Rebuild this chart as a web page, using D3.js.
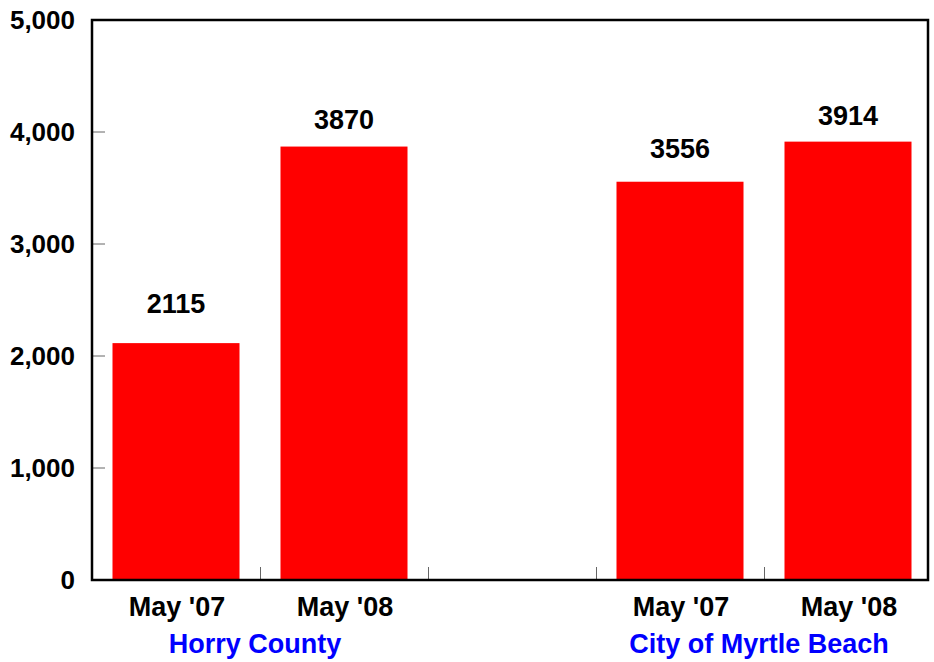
<!DOCTYPE html>
<html>
<head>
<meta charset="utf-8">
<script src="https://cdn.jsdelivr.net/npm/d3@7"></script>
<style>
  body { margin: 0; background: #fff; }
  text { font-family: "Liberation Sans", Arial, sans-serif; font-weight: bold; }
</style>
</head>
<body>
<div id="chart"></div>
<script>
const groups = ["Horry County", "City of Myrtle Beach"];
const periods = ["May '07", "May '08"];
const horry = [2115, 3870];
const myrtle = [3556, 3914];
const yTicks = [0, 1000, 2000, 3000, 4000, 5000];

// slots: 2 bars, empty gap, 2 bars
const slots = ["h0", "h1", "gap", "m0", "m1"];
const bars = [
  { slot: "h0", label: periods[0], value: horry[0] },
  { slot: "h1", label: periods[1], value: horry[1] },
  { slot: "m0", label: periods[0], value: myrtle[0] },
  { slot: "m1", label: periods[1], value: myrtle[1] }
];
// the original places the value labels at uneven gaps above the bars
const labelGap = [30, 18, 24, 17];

const W = 934, H = 662;
const mLeft = 92, mTop = 20, mRight = 928, mBottom = 580;

const svg = d3.select("#chart").append("svg")
    .attr("width", W)
    .attr("height", H);

const x = d3.scaleBand()
    .domain(slots)
    .range([mLeft, 932])
    .paddingInner(0)
    .paddingOuter(0);

const y = d3.scaleLinear()
    .domain([0, 5000])
    .range([mBottom, mTop]);

const bw = x.bandwidth() * 0.756;

// bars
svg.selectAll("rect.bar")
    .data(bars)
  .enter().append("rect")
    .attr("class", "bar")
    .attr("x", d => x(d.slot) + x.bandwidth() / 2 - bw / 2)
    .attr("y", d => y(d.value))
    .attr("width", bw)
    .attr("height", d => y(0) - y(d.value))
    .attr("fill", "#ff0000");

// value labels
svg.selectAll("text.val")
    .data(bars)
  .enter().append("text")
    .attr("class", "val")
    .attr("x", d => x(d.slot) + x.bandwidth() / 2)
    .attr("y", (d, i) => y(d.value) - labelGap[i])
    .attr("text-anchor", "middle")
    .style("font-size", "27px")
    .attr("fill", "#000")
    .text(d => d.value);

// inner y ticks
svg.selectAll("line.ytick")
    .data(yTicks.filter(t => t > 0 && t < 5000))
  .enter().append("line")
    .attr("x1", mLeft).attr("x2", mLeft + 13)
    .attr("y1", d => y(d)).attr("y2", d => y(d))
    .attr("stroke", "#666").attr("stroke-width", 1);

// inner x ticks at slot boundaries
svg.selectAll("line.xtick")
    .data(slots.slice(1))
  .enter().append("line")
    .attr("x1", d => Math.round(x(d)) + 0.5).attr("x2", d => Math.round(x(d)) + 0.5)
    .attr("y1", mBottom).attr("y2", mBottom - 13)
    .attr("stroke", "#666").attr("stroke-width", 1);

// frame
svg.append("rect")
    .attr("x", mLeft).attr("y", mTop)
    .attr("width", mRight - mLeft).attr("height", mBottom - mTop)
    .attr("fill", "none")
    .attr("stroke", "#000")
    .attr("stroke-width", 2.5);

// y tick labels
svg.selectAll("text.ylab")
    .data(yTicks)
  .enter().append("text")
    .attr("class", "ylab")
    .attr("x", 75)
    .attr("y", d => y(d))
    .attr("dy", "0.36em")
    .attr("text-anchor", "end")
    .style("font-size", "26px")
    .text(d => d3.format(",")(d));

// period labels
svg.selectAll("text.xlab")
    .data(bars)
  .enter().append("text")
    .attr("class", "xlab")
    .attr("x", d => x(d.slot) + x.bandwidth() / 2 + 1)
    .attr("y", 616)
    .attr("text-anchor", "middle")
    .style("font-size", "27px")
    .text(d => d.label);

// group labels
const groupCenters = [
  (x("h0") + x("h1")) / 2 + x.bandwidth() / 2,
  (x("m0") + x("m1")) / 2 + x.bandwidth() / 2
];
svg.selectAll("text.glab")
    .data(groups)
  .enter().append("text")
    .attr("class", "glab")
    .attr("x", (d, i) => groupCenters[i] - 5)
    .attr("y", 653)
    .attr("text-anchor", "middle")
    .style("font-size", "27px")
    .attr("fill", "#0000ff")
    .text(d => d);
</script>
</body>
</html>
